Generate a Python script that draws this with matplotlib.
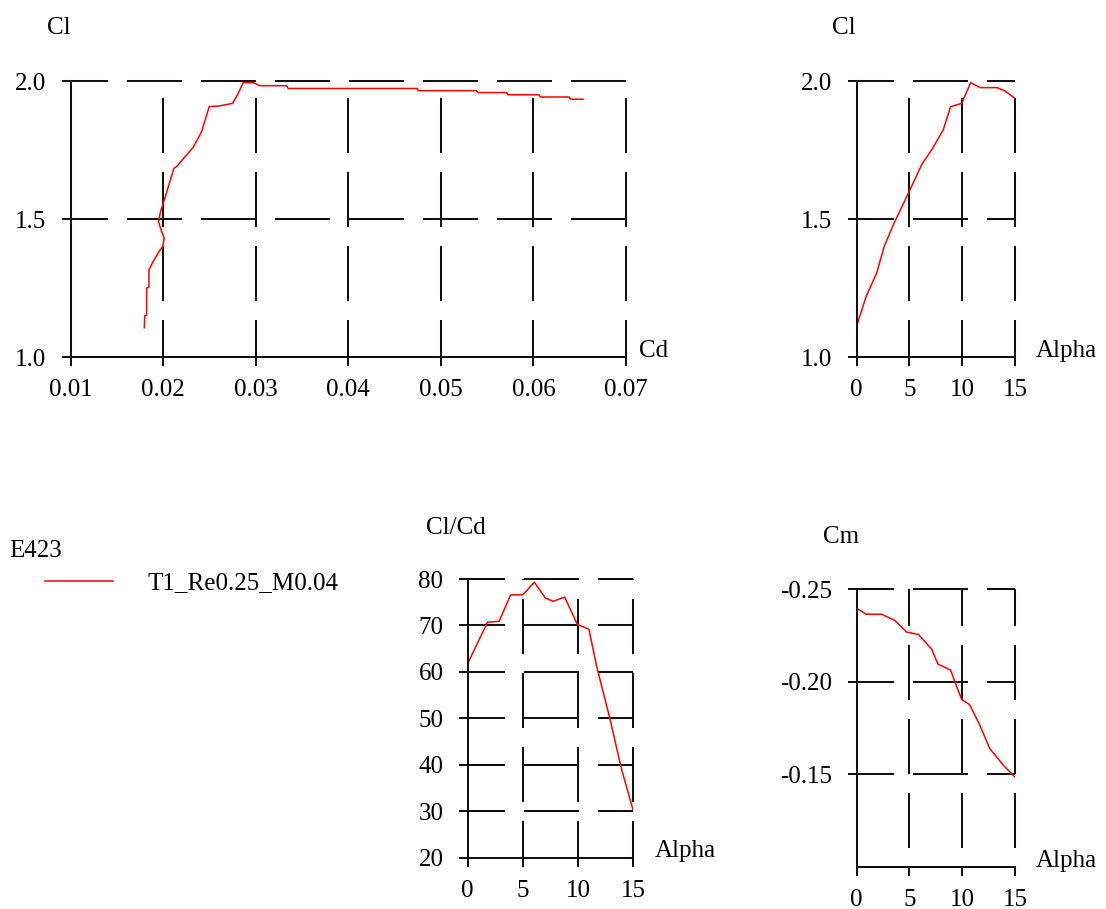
import matplotlib
matplotlib.use("Agg")
import matplotlib.pyplot as plt

plt.rcParams["font.family"] = ["Liberation Serif", "DejaVu Serif"]
plt.rcParams["font.size"] = 18
plt.rcParams["lines.scale_dashes"] = False

# polar data
airfoil = "E423"
polar_name = "T1_Re0.25_M0.04"

cd_polar = [0.01795, 0.0180, 0.0182, 0.0182, 0.01845, 0.01845, 0.0189, 0.01965, 0.01994,
            0.0201, 0.01965, 0.0195, 0.0197, 0.0200, 0.02116, 0.02145, 0.02324, 0.02414,
            0.02497, 0.02612, 0.0275, 0.0281, 0.02864, 0.02972, 0.03044, 0.03333, 0.0335,
            0.04016, 0.04743, 0.04754, 0.05384, 0.05402, 0.05709, 0.05726, 0.0606,
            0.06076, 0.06385, 0.064, 0.06536]
cl_polar = [1.106, 1.149, 1.152, 1.249, 1.253, 1.315, 1.345, 1.388, 1.400,
            1.430, 1.472, 1.490, 1.526, 1.557, 1.684, 1.690, 1.760, 1.816,
            1.907, 1.910, 1.919, 1.955, 1.994, 1.994, 1.983, 1.983, 1.973,
            1.973, 1.973, 1.965, 1.965, 1.958, 1.958, 1.950, 1.950,
            1.942, 1.942, 1.934, 1.934]

alpha_cl = [0, 0.9, 1.9, 2.6, 3.6, 5.05, 6.2, 7.1, 8.2, 8.9, 9.95, 10.8, 11.7, 13.3, 14.05, 15]
cl_alpha = [1.112, 1.22, 1.305, 1.40, 1.49, 1.606, 1.70, 1.75, 1.823, 1.907, 1.919, 1.994,
            1.976, 1.976, 1.964, 1.937]

alpha_clcd = [0, 1.8, 2.85, 3.9, 5.0, 6.05, 7.05, 7.75, 8.8, 9.95, 11.0, 11.7, 12.9, 13.9, 15]
clcd_alpha = [61.8, 70.7, 70.9, 76.6, 76.6, 79.3, 75.9, 75.2, 76.1, 70.2, 69.2, 61.2, 50.0,
              39.6, 30.3]

alpha_cm = [0, 0.9, 2.35, 3.6, 4.75, 5.85, 7.1, 7.7, 8.9, 9.4, 9.95, 10.7, 11.65, 12.6,
            13.9, 15]
cm_alpha = [-0.2395, -0.2364, -0.2364, -0.2331, -0.2267, -0.2255, -0.2176, -0.2095,
            -0.2062, -0.1985, -0.1904, -0.1876, -0.1767, -0.164, -0.1549, -0.1485]

W, H = 1106, 909
fig = plt.figure(figsize=(W / 100, H / 100), dpi=100)

BLACK = "#111111"
RED = "#ff0000"
LW = 1.45
PX = 0.72  # points per pixel at 100 dpi
grid_ls = (18 * PX, (55 * PX, 19 * PX))
grid_ls_inv = (55 * PX, (55 * PX, 19 * PX))  # Cm plot: dashes line up from the top


def rect(left, top, right, bottom):
    return [left / W, 1 - bottom / H, (right - left) / W, (bottom - top) / H]


def label(x, y, s):
    fig.text(x / W, 1 - y / H, s, ha="left", va="center")


def make_axes(box, xlim, ylim, xticks, yticks, xlabels, ylabels, invert=False):
    ax = fig.add_axes(rect(*box))
    ax.set_xlim(*xlim)
    ax.set_ylim(*ylim)
    ax.set_xticks(xticks)
    ax.set_xticklabels(xlabels)
    ax.set_yticks(yticks)
    ax.set_yticklabels(ylabels)
    for s in ["top", "right"]:
        ax.spines[s].set_visible(False)
    for s in ["left", "bottom"]:
        ax.spines[s].set_linewidth(LW)
        ax.spines[s].set_color(BLACK)
    ax.tick_params(axis="both", direction="out", length=9 * PX, width=LW, color=BLACK)
    ax.tick_params(axis="x", pad=9.5)
    ax.tick_params(axis="y", pad=11)
    # dashed grid, as the polar viewer draws it
    for x in xticks[1:]:
        ax.axvline(x, color=BLACK, lw=LW, ls=grid_ls_inv if invert else grid_ls,
                   clip_on=False)
    for y in yticks:
        if y == ylim[0] and not invert:
            continue
        ax.axhline(y, color=BLACK, lw=LW, ls=grid_ls, clip_on=False)
    return ax


# Cl vs Cd
ax1 = make_axes((70.7, 81, 626, 357), (0.01, 0.07), (1.0, 2.0),
                [0.01, 0.02, 0.03, 0.04, 0.05, 0.06, 0.07], [1.0, 1.5, 2.0],
                ["0.01", "0.02", "0.03", "0.04", "0.05", "0.06", "0.07"],
                ["1.0", "1.5", "2.0"])
line, = ax1.plot(cd_polar, cl_polar, color=RED, lw=1.1)

# Cl vs Alpha
ax2 = make_axes((856.7, 81, 1015, 357), (0, 15), (1.0, 2.0),
                [0, 5, 10, 15], [1.0, 1.5, 2.0],
                ["0", "5", "10", "15"], ["1.0", "1.5", "2.0"])
ax2.plot(alpha_cl, cl_alpha, color=RED, lw=1.1)

# Cl/Cd vs Alpha
ax3 = make_axes((467.7, 579, 633, 857.7), (0, 15), (20, 80),
                [0, 5, 10, 15], [20, 30, 40, 50, 60, 70, 80],
                ["0", "5", "10", "15"], ["20", "30", "40", "50", "60", "70", "80"])
ax3.plot(alpha_clcd, clcd_alpha, color=RED, lw=1.1)

# Cm vs Alpha (axis reversed: -0.25 on top)
ax4 = make_axes((856.7, 589, 1015, 867), (0, 15), (-0.10, -0.25),
                [0, 5, 10, 15], [-0.25, -0.20, -0.15],
                ["0", "5", "10", "15"], ["-0.25", "-0.20", "-0.15"], invert=True)
ax4.plot(alpha_cm, cm_alpha, color=RED, lw=1.1)

# axis titles
label(47, 28, "Cl")
label(639, 351, "Cd")
label(832, 28, "Cl")
label(1036, 351, "Alpha")
label(426, 528, "Cl/Cd")
label(655, 851, "Alpha")
label(823, 537, "Cm")
label(1036, 861, "Alpha")

# legend
label(9, 551, airfoil)
fig.legend([line], [polar_name], loc="center left",
           bbox_to_anchor=(45 / W, 1 - 583 / H), frameon=False,
           borderpad=0, borderaxespad=0, handlelength=68 / 25,
           handletextpad=35 / 25)

fig.savefig("out.png", dpi=100, facecolor="white")
